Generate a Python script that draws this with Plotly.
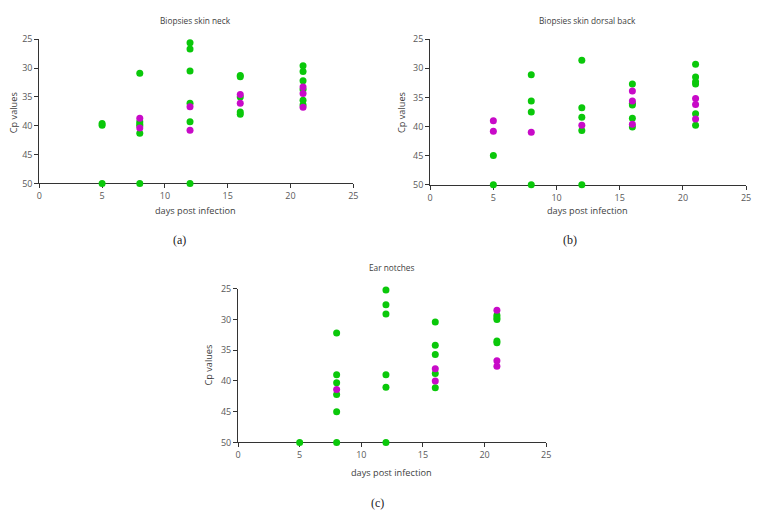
import plotly.graph_objects as go

# panel (a): biopsies skin neck
neck_green_days = [5, 5, 5, 8, 8, 8, 8, 8, 8, 12, 12, 12, 12, 12, 12, 16, 16, 16, 16, 16, 21, 21, 21, 21, 21, 21]
neck_green_cp = [39.6, 39.9, 50, 30.9, 39.3, 39.7, 40.0, 41.3, 50, 25.6, 26.7, 30.5, 36.1, 39.3, 50, 31.3, 31.5, 35.0, 37.6, 38.0, 29.6, 30.6, 32.2, 33.7, 35.6, 36.4]
neck_magenta_days = [8, 8, 12, 12, 16, 16, 21, 21, 21]
neck_magenta_cp = [38.7, 40.4, 36.7, 40.8, 34.6, 36.1, 33.3, 34.4, 36.8]

# panel (b): biopsies skin dorsal back
back_green_days = [5, 5, 8, 8, 8, 8, 12, 12, 12, 12, 12, 16, 16, 16, 16, 16, 21, 21, 21, 21, 21, 21]
back_green_cp = [45.0, 50, 31.1, 35.6, 37.5, 50, 28.6, 36.8, 38.4, 40.7, 50, 32.7, 36.0, 36.3, 38.6, 40.1, 29.3, 31.5, 32.3, 32.7, 37.8, 39.8]
back_magenta_days = [5, 5, 8, 12, 16, 16, 16, 21, 21, 21]
back_magenta_cp = [39.0, 40.8, 41.0, 39.8, 33.9, 35.6, 39.6, 35.2, 36.2, 38.7]

# panel (c): ear notches
ear_green_days = [5, 8, 8, 8, 8, 8, 8, 12, 12, 12, 12, 12, 12, 16, 16, 16, 16, 16, 21, 21, 21, 21, 21]
ear_green_cp = [50, 32.2, 39.0, 40.3, 42.2, 45.0, 50, 25.2, 27.6, 29.1, 39.0, 41.0, 50, 30.4, 34.2, 35.7, 38.8, 41.1, 29.3, 29.7, 30.0, 33.5, 33.8]
ear_magenta_days = [8, 16, 16, 21, 21, 21]
ear_magenta_cp = [41.4, 38.0, 40.0, 28.5, 36.7, 37.6]

x_ticks = [0, 5, 10, 15, 20, 25]
y_ticks = [25, 30, 35, 40, 45, 50]

panels = [
    ("Biopsies skin neck", "(a)", neck_green_days, neck_green_cp, neck_magenta_days, neck_magenta_cp),
    ("Biopsies skin dorsal back", "(b)", back_green_days, back_green_cp, back_magenta_days, back_magenta_cp),
    ("Ear notches", "(c)", ear_green_days, ear_green_cp, ear_magenta_days, ear_magenta_cp),
]

W, H = 762, 518
# plot boxes in pixels: left, right, top, bottom
boxes = [(36.7, 354, 33, 181), (431.7, 751, 33, 182.3), (237.5, 549, 289, 446.7)]
# text positions in pixels: title, y title, x title, panel label
text_pos = [
    ((195, 14), (10, 108), (195, 209), (178, 239)),
    ((591, 14), (403, 108), (591, 209), (573, 239)),
    ((393, 267), (208, 367), (393, 477), (378, 509)),
]


def px_x(v):
    return v / W


def px_y(v):
    return 1 - v / H


GREEN = "#0ac80a"
MAGENTA = "#c80ac8"
FONT = "Open Sans, Liberation Sans, sans-serif"

fig = go.Figure()
annotations = []
for i, (title, label, gd, gc, md, mc) in enumerate(panels):
    suffix = "" if i == 0 else str(i + 1)
    fig.add_trace(go.Scatter(x=gd, y=gc, mode="markers", xaxis="x" + suffix, yaxis="y" + suffix,
                             marker=dict(color=GREEN, size=7), cliponaxis=False, showlegend=False))
    fig.add_trace(go.Scatter(x=md, y=mc, mode="markers", xaxis="x" + suffix, yaxis="y" + suffix,
                             marker=dict(color=MAGENTA, size=7), cliponaxis=False, showlegend=False))
    left, right, top, bottom = boxes[i]
    axis_common = dict(showgrid=False, zeroline=False, showline=True, linecolor="#333333", linewidth=1,
                       ticks="outside", ticklen=4, tickcolor="#333333", layer="below traces",
                       tickfont=dict(family=FONT, size=9, color="#595959"))
    fig.update_layout(**{
        "xaxis" + suffix: dict(domain=[px_x(left), px_x(right)], anchor="y" + suffix, range=[0, 25],
                               tickvals=x_ticks, ticklabeloverflow="allow", **axis_common),
        "yaxis" + suffix: dict(domain=[px_y(bottom), px_y(top)], anchor="x" + suffix, range=[50, 25],
                               tickvals=y_ticks, **axis_common),
    })
    (tx, ty), (yx, yy), (xx, xy), (lx, ly) = text_pos[i]
    annotations += [
        dict(text=title, x=px_x(tx), y=px_y(ty), font=dict(family=FONT, size=8.3, color="#404040")),
        dict(text="Cp values", x=px_x(yx), y=px_y(yy), textangle=-90, font=dict(family=FONT, size=9.2, color="#404040")),
        dict(text="days post infection", x=px_x(xx), y=px_y(xy), font=dict(family=FONT, size=9.2, color="#404040")),
        dict(text=label, x=px_x(lx), y=px_y(ly), font=dict(family="Liberation Serif, serif", size=12, color="#222")),
    ]

for a in annotations:
    a.update(xref="paper", yref="paper", showarrow=False, xanchor="center", yanchor="middle")

fig.update_layout(width=W, height=H, margin=dict(l=0, r=0, t=0, b=0), plot_bgcolor="white",
                  paper_bgcolor="white", annotations=annotations)
# drop the default page margin so the figure sits at the window's corner
fig.write_html("out.html", config={"displayModeBar": False},
               post_script="document.body.style.margin = '0';")
